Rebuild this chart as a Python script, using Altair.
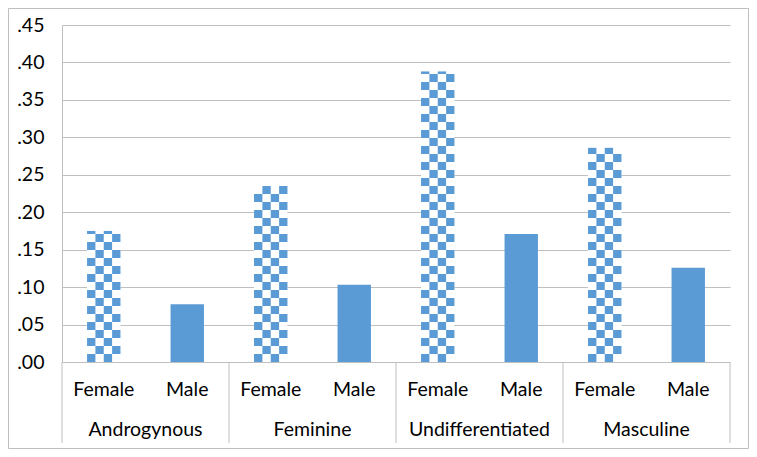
import math
import altair as alt
import pandas as pd

# ---- data ----
groups = ["Androgynous", "Feminine", "Undifferentiated", "Masculine"]
sexes = ["Female", "Male"]
female_vals = [0.175, 0.235, 0.388, 0.286]
male_vals = [0.077, 0.103, 0.171, 0.126]
y_ticks = [0.00, 0.05, 0.10, 0.15, 0.20, 0.25, 0.30, 0.35, 0.40, 0.45]

# ---- style ----
W, H = 668, 337
BLUE = "#5B9BD5"
GRID = "#BFBFBF"
FONT = "Lato"
FS = 19.5
BAR_HALF = 0.1          # half bar width in group units (gap width 150%)
CELL_W = 0.05           # checker cell width (4 cells per bar)
CELL_H = 0.45 * 8 / H   # checker cell height ~8px

# ---- tables ----
bar_rows, label_rows = [], []
for gi, g in enumerate(groups):
    for si, s in enumerate(sexes):
        v = female_vals[gi] if s == "Female" else male_vals[gi]
        c = gi + 0.25 + 0.5 * si
        bar_rows.append({"group": g, "sex": s, "value": v, "x": c - BAR_HALF, "x2": c + BAR_HALF})
        label_rows.append({"x": c, "label": s})
bars = pd.DataFrame(bar_rows)
sub_labels = pd.DataFrame(label_rows)
group_labels = pd.DataFrame({"x": [i + 0.5 for i in range(len(groups))], "label": groups})
seps = pd.DataFrame({"x": list(range(len(groups) + 1))})

cell_rows = []
for gi, v in enumerate(female_vals):
    left = gi + 0.25 - BAR_HALF
    n = math.ceil(v / CELL_H)
    for r in range(n):
        for c in range(4):
            if (r + c) % 2 == 0:
                cell_rows.append({
                    "x": left + c * CELL_W, "x2": left + (c + 1) * CELL_W,
                    "y": r * CELL_H, "y2": min((r + 1) * CELL_H, v),
                })
cells = pd.DataFrame(cell_rows)

xs = alt.Scale(domain=[0, len(groups)], nice=False, zero=False)
ys = alt.Scale(domain=[0, 0.45], nice=False)


def yaxis():
    return alt.Axis(
        values=y_ticks, grid=True, gridColor=GRID, domainColor=GRID, ticks=False,
        labelExpr="substring(format(datum.value, '.2f'), 1)", labelPadding=18,
        labelOverlap=False, labelBound=False,
        labelFont=FONT, labelFontSize=FS, labelColor="#000000", title=None,
    )


bar_layer = alt.Chart(bars).mark_rect(stroke=None).encode(
    x=alt.X("x:Q", scale=xs, axis=None),
    x2="x2:Q",
    y=alt.Y("value:Q", scale=ys, axis=yaxis()),
    y2=alt.datum(0),
    fill=alt.condition(alt.datum.sex == "Male", alt.value(BLUE), alt.value("#FFFFFF")),
)

cell_layer = alt.Chart(cells).mark_rect(color=BLUE).encode(
    x=alt.X("x:Q", scale=xs, axis=None), x2="x2:Q",
    y=alt.Y("y:Q", scale=ys, axis=yaxis()), y2="y2:Q",
)

sep_layer = alt.Chart(seps).mark_rule(color=GRID, strokeWidth=1).encode(
    x=alt.X("x:Q", scale=xs, axis=None), y=alt.value(H), y2=alt.value(418)
)

sub_layer = alt.Chart(sub_labels).mark_text(
    font=FONT, fontSize=FS, baseline="middle", align="center", color="#000000"
).encode(x=alt.X("x:Q", scale=xs, axis=None), y=alt.value(365), text="label:N")

grp_layer = alt.Chart(group_labels).mark_text(
    font=FONT, fontSize=FS, baseline="middle", align="center", color="#000000"
).encode(x=alt.X("x:Q", scale=xs, axis=None), y=alt.value(405), text="label:N")

frame = alt.Chart(pd.DataFrame({"k": [0]})).mark_rect(
    filled=False, stroke=GRID, strokeWidth=1
).encode(
    x=alt.value(-53.5), x2=alt.value(W + 18.5), y=alt.value(-16.5), y2=alt.value(H + 86.5)
)

chart = alt.layer(bar_layer, cell_layer, sep_layer, sub_layer, grp_layer, frame).properties(
    width=W, height=H,
    padding={"left": 54, "top": 17, "right": 19, "bottom": 87},
    autosize=alt.AutoSizeParams(type="none"),
).configure_view(stroke=None)

chart.save("out.html", embed_options={"renderer": "svg", "actions": False})
